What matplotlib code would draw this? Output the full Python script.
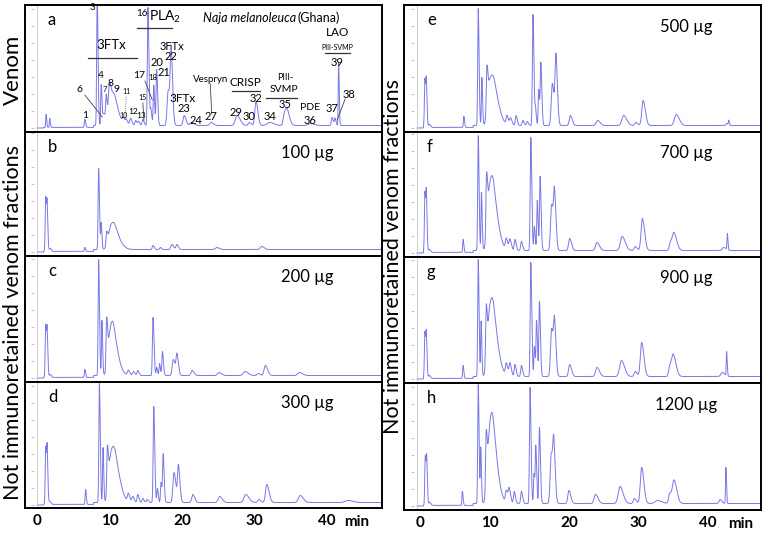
import numpy as np
import matplotlib.pyplot as plt

plt.rcParams['font.family'] = ['Lato', 'DejaVu Sans']
plt.rcParams['mathtext.fontset'] = 'custom'
plt.rcParams['mathtext.rm'] = 'Lato'

# peak tables: retention time (min), height, width (min)
a_times = [1.25, 1.75, 6.6, 8.3, 8.85, 9.2, 9.55, 9.95, 10.35, 10.8, 11.9, 12.3, 12.9, 13.6, 14.0, 14.6,
           15.3, 15.7, 16.1, 16.5, 18.1, 18.5, 20.3, 21.3, 24.0, 27.6, 29.3, 30.2, 32.1, 34.1, 34.5, 37.7,
           40.7, 41.1, 41.6]
a_heights = [13, 9, 8, 130, 40, 12, 26, 30, 24, 12, 5, 5, 7, 5, 4, 6,
             118, 16, 40, 56, 35, 70, 10, 3, 3, 10, 3, 24, 3, 11, 14, 2,
             8, 7, 62]
a_widths = [0.05, 0.05, 0.07, 0.07, 0.06, 0.15, 0.08, 0.12, 0.3, 0.4, 0.12, 0.12, 0.12, 0.1, 0.1, 0.1,
            0.08, 0.08, 0.07, 0.08, 0.15, 0.12, 0.15, 0.2, 0.2, 0.25, 0.15, 0.15, 0.35, 0.15, 0.2, 0.3,
            0.1, 0.08, 0.05]

b_times = [1.2, 1.4, 1.8, 6.6, 8.5, 8.85, 9.6, 10.2, 10.8, 16.0, 17.0, 18.6, 19.3, 24.8, 31.0]
b_heights = [55, 38, 3, 4, 81, 26, 13, 20, 12, 4, 2, 5, 5, 2, 3]
b_widths = [0.07, 0.06, 0.1, 0.06, 0.07, 0.06, 0.08, 0.35, 0.45, 0.1, 0.1, 0.15, 0.12, 0.2, 0.2]

c_times = [1.2, 1.4, 1.8, 6.6, 8.5, 8.95, 9.6, 10.1, 10.6, 12.6, 13.3, 13.9, 16.0, 16.5, 16.9, 17.3,
           18.8, 19.3, 21.4, 25.1, 28.7, 30.5, 31.5, 36.2]
c_heights = [53, 38, 3, 8, 116, 55, 48, 35, 28, 5, 4, 5, 58, 8, 12, 24, 16, 20, 5, 3, 4, 2, 10, 3]
c_widths = [0.07, 0.06, 0.1, 0.06, 0.07, 0.06, 0.08, 0.3, 0.4, 0.12, 0.12, 0.1, 0.08, 0.07, 0.07, 0.08,
            0.15, 0.12, 0.15, 0.2, 0.25, 0.15, 0.18, 0.25]

d_times = [1.2, 1.4, 1.75, 6.7, 8.6, 9.1, 9.7, 10.2, 10.9, 12.6, 13.2, 13.9, 14.6, 15.2,
           16.1, 16.6, 17.1, 17.4, 18.9, 19.5, 21.5, 25.2, 28.8, 30.6, 31.7, 36.3, 42.9]
d_heights = [58, 46, 3, 15, 119, 55, 45, 45, 30, 8, 6, 8, 4, 3,
             96, 14, 20, 48, 30, 36, 8, 6, 8, 3, 18, 7, 2]
d_widths = [0.07, 0.06, 0.1, 0.06, 0.07, 0.06, 0.08, 0.3, 0.4, 0.12, 0.12, 0.1, 0.1, 0.1,
            0.08, 0.07, 0.07, 0.08, 0.15, 0.12, 0.15, 0.2, 0.25, 0.15, 0.18, 0.25, 0.4]

e_times = [1.1, 1.3, 1.7, 6.5, 8.5, 9.0, 9.7, 10.1, 10.8, 12.5, 13.0, 13.75, 14.7, 15.3,
           16.1, 16.45, 16.9, 17.2, 18.8, 19.3, 21.3, 25.1, 28.7, 30.4, 31.4, 36.0, 43.0, 43.3]
e_heights = [49, 38, 3, 11, 117, 48, 42, 40, 28, 9, 7, 10, 5, 4,
             111, 16, 36, 62, 42, 66, 10, 5, 10, 3, 25, 11, 2, 5]
e_widths = [0.07, 0.06, 0.1, 0.06, 0.07, 0.06, 0.08, 0.3, 0.4, 0.12, 0.12, 0.1, 0.1, 0.1,
            0.08, 0.07, 0.07, 0.08, 0.15, 0.12, 0.15, 0.2, 0.25, 0.15, 0.18, 0.25, 0.1, 0.05]

f_times = [1.1, 1.3, 1.7, 6.4, 8.5, 8.95, 9.65, 10.1, 10.7, 12.4, 12.9, 13.6, 14.5, 15.8,
           16.3, 16.7, 17.1, 18.7, 19.1, 21.2, 25.0, 28.5, 30.3, 31.3, 35.2, 35.7, 42.6, 43.1]
f_heights = [61, 48, 3, 13, 115, 58, 58, 55, 38, 11, 11, 11, 9, 113,
             24, 50, 74, 46, 50, 12, 8, 14, 4, 32, 8, 17, 3, 16]
f_widths = [0.07, 0.06, 0.1, 0.06, 0.07, 0.06, 0.08, 0.3, 0.4, 0.12, 0.12, 0.1, 0.1, 0.08,
            0.07, 0.07, 0.08, 0.15, 0.12, 0.15, 0.2, 0.25, 0.15, 0.18, 0.15, 0.22, 0.2, 0.05]

g_times = [1.1, 1.3, 1.7, 6.4, 8.5, 8.9, 9.6, 10.1, 10.7, 12.4, 12.9, 13.6, 14.5, 15.8,
           16.3, 16.6, 17.0, 18.7, 19.1, 21.2, 25.0, 28.4, 30.3, 31.2, 35.1, 35.6, 42.4, 43.0]
g_heights = [47, 36, 3, 13, 117, 55, 56, 58, 40, 12, 13, 12, 11, 114,
             30, 55, 75, 48, 46, 12, 9, 16, 5, 34, 10, 21, 4, 24]
g_widths = [0.07, 0.06, 0.1, 0.06, 0.07, 0.06, 0.08, 0.3, 0.4, 0.12, 0.12, 0.1, 0.1, 0.08,
            0.07, 0.07, 0.08, 0.15, 0.12, 0.15, 0.2, 0.25, 0.15, 0.18, 0.15, 0.22, 0.2, 0.05]

h_times = [1.15, 1.35, 1.75, 6.3, 8.5, 8.85, 9.6, 10.1, 10.6, 12.4, 12.8, 13.5, 14.5, 15.7,
           16.25, 16.5, 17.0, 18.65, 19.0, 21.1, 24.8, 28.2, 30.2, 31.2, 33.4, 35.1, 35.7, 42.1, 42.9]
h_heights = [50, 38, 3, 14, 119, 55, 56, 58, 48, 12, 14, 12, 12, 116,
             30, 55, 76, 50, 48, 13, 9, 17, 5, 36, 3, 10, 23, 4, 36]
h_widths = [0.07, 0.06, 0.1, 0.06, 0.07, 0.06, 0.08, 0.3, 0.4, 0.12, 0.12, 0.1, 0.1, 0.08,
            0.07, 0.07, 0.08, 0.15, 0.12, 0.15, 0.2, 0.25, 0.15, 0.18, 0.35, 0.15, 0.22, 0.15, 0.05]

panels = [
    ('a', None, a_times, a_heights, a_widths),
    ('b', '100 µg', b_times, b_heights, b_widths),
    ('c', '200 µg', c_times, c_heights, c_widths),
    ('d', '300 µg', d_times, d_heights, d_widths),
    ('e', '500 µg', e_times, e_heights, e_widths),
    ('f', '700 µg', f_times, f_heights, f_widths),
    ('g', '900 µg', g_times, g_heights, g_widths),
    ('h', '1200 µg', h_times, h_heights, h_widths),
]

# panel boxes in pixels (left, top, right, bottom, baseline)
boxes = {
    'a': (25, 5, 382, 132, 128), 'b': (25, 132, 382, 256, 252),
    'c': (25, 256, 382, 382, 378), 'd': (25, 382, 382, 508, 505),
    'e': (404, 5, 761, 132, 128), 'f': (404, 132, 761, 257, 253),
    'g': (404, 257, 761, 383, 379), 'h': (404, 383, 761, 510, 506),
}
LINE = '#7878e6'
W, H = 768, 533


def trace(t, times, heights, widths):
    y = np.where(t < 7.8, 0.6, 2.5)
    y = np.where(t < 0.9, 0.0, y)
    for t0, h, w in zip(times, heights, widths):
        s = np.where(t < t0, w, w * 1.7)
        y = y + h * np.exp(-0.5 * ((t - t0) / s) ** 2)
    return y


fig = plt.figure(figsize=(7.68, 5.33), dpi=100)
axes = {}
for letter, dose, times, heights, widths in panels:
    l, tp, r, b, base = boxes[letter]
    x0 = 37 if l < 300 else 417
    ppm = 7.25 if l < 300 else 7.2
    ax = fig.add_axes([l / W, 1 - b / H, (r - l) / W, (b - tp) / H])
    ax.set_xlim((l - x0) / ppm, (r - x0) / ppm)
    ax.set_ylim(base - b, base - tp)
    t = np.linspace(0, 48, 6000)
    ax.plot(t, trace(t, times, heights, widths), color=LINE, lw=0.7)
    ax.axvline(0, color='#c8c8c8', lw=0.6)
    ax.hlines(np.arange(0, base - tp, 17), -0.85, -0.35, color='#aaaaaa', lw=0.5)
    for sp in ax.spines.values():
        sp.set_linewidth(1.4)
    ax.set_xticks([])
    ax.set_yticks([])
    ax.text(0.064, 0.88, letter, transform=ax.transAxes, fontsize=12, va='center')
    if dose:
        ax.text(0.79, 0.83, dose, transform=ax.transAxes, fontsize=12, ha='center', va='center')
    axes[letter] = ax

# bottom tick labels
for letter, pos, mint in [('d', [0, 10, 20, 30, 40], 44.1), ('h', [0.4, 10.1, 21.2, 30.7, 40.4], 44.9)]:
    ax = axes[letter]
    ax.set_xticks(pos)
    ax.set_xticklabels(['0', '10', '20', '30', '40'], fontsize=11, fontweight='bold')
    ax.tick_params(axis='x', length=0, pad=4)
    ax.text(mint, -0.055, 'min', transform=ax.get_xaxis_transform(), fontsize=11,
            fontweight='bold', ha='center', va='top')

fig.text(13 / W, 1 - 70 / H, 'Venom', rotation=90, fontsize=16, ha='center', va='center')
fig.text(13 / W, 1 - 322 / H, 'Not immunoretained venom fractions', rotation=90, fontsize=15.5,
         ha='center', va='center')
fig.text(393 / W, 1 - 257 / H, 'Not immunoretained venom fractions', rotation=90, fontsize=15.5,
         ha='center', va='center')

# annotations on the venom profile
ax = axes['a']
labels_a = [
    ('3', 7.6, 120, 7), ('4', 8.8, 53, 7.5), ('7', 9.4, 39, 5.5), ('8', 10.1, 45, 7.5), ('9', 10.9, 39, 7.5),
    ('6', 5.9, 38, 7.5), ('11', 12.4, 36, 5), ('10', 12.0, 12, 5), ('12', 13.2, 16, 6), ('13', 14.3, 12, 6),
    ('15', 14.5, 30, 5), ('1', 6.6, 13, 7.5), ('16', 14.4, 114, 7), ('17', 14.1, 53, 7.5),
    ('18', 16.0, 50, 5.5), ('20', 16.55, 65, 8), ('21', 17.5, 55, 8), ('3FTx', 18.6, 81, 8),
    ('22', 18.5, 71, 8), ('3FTx', 20.1, 29, 8.5), ('23', 20.3, 19, 8), ('24', 21.9, 7, 8),
    ('Vespryn', 23.9, 49, 7), ('27', 24.0, 11, 8), ('CRISP', 28.7, 45, 8.5), ('32', 30.2, 30, 8),
    ('29', 27.4, 15, 8), ('30', 29.2, 11, 8), ('PIII-', 34.3, 51, 6.5), ('SVMP', 34.1, 39, 7.5),
    ('35', 34.2, 24, 8), ('34', 32.1, 11, 8), ('PDE', 37.7, 20, 7.5), ('36', 37.7, 7, 8),
    ('37', 40.7, 19, 8), ('38', 43.0, 34, 8), ('LAO', 41.4, 95, 8.5), ('PIII-SVMP', 41.4, 81, 5),
    ('39', 41.4, 66, 8), ('3FTx', 10.3, 83, 9.5),
]
for txt, tx, ty, fs in labels_a:
    ax.text(tx, ty, txt, fontsize=fs, ha='center', va='center')
ax.text(15.5, 111, 'PLA$_2$', fontsize=10, ha='left', va='center')
ax.text(35.7, 110, 'Naja melanoleuca', fontsize=9, style='italic', ha='right', va='center')
ax.text(36.0, 110, '(Ghana)', fontsize=9, ha='left', va='center')

for x1, x2, y in [(7.0, 13.8, 70), (13.8, 18.6, 100), (26.9, 30.8, 37), (31.6, 35.9, 30), (39.7, 43.2, 75)]:
    ax.plot([x1, x2], [y, y], color='#333333', lw=0.9)
for (x1, y1), (x2, y2), ls in [((6.6, 33), (9.0, 11), '-'), ((14.9, 47), (15.9, 28), '-'),
                               ((12.3, 31), (12.15, 8), ':'), ((14.6, 25), (14.75, 8), '-'),
                               ((23.9, 44), (24.1, 14), '-'), ((42.5, 29), (41.4, 8), '-')]:
    ax.plot([x1, x2], [y1, y2], color='#444444', lw=0.6, ls=ls)

fig.savefig('out.png', dpi=100)
